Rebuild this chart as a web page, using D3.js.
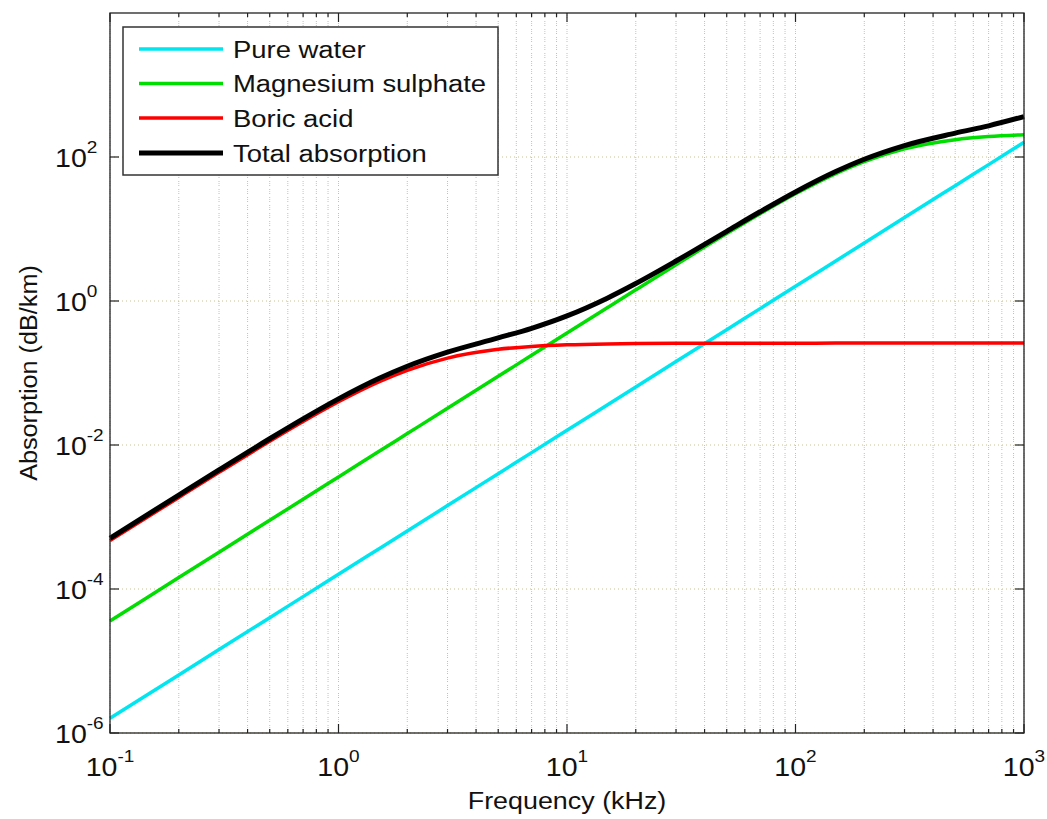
<!DOCTYPE html>
<html><head><meta charset="utf-8">
<script src="https://cdn.jsdelivr.net/npm/d3@7"></script>
<style>
body{margin:0;background:#fff;}
text{font-family:"Liberation Sans",Arial,Helvetica,sans-serif;fill:#111;}
</style>
</head><body>
<svg id="chart" width="1047" height="819"></svg>
<script>
// ---- data ----
const frequencies = [0.1,0.2,0.3,0.5,0.7,1,1.5,2,3,5,7,10,15,20,30,50,70,100,150,200,300,500,700,1000];
const pureWater = [1.6e-6,6.4e-6,1.44e-5,4.0e-5,7.84e-5,1.6e-4,3.6e-4,6.4e-4,1.44e-3,4.0e-3,7.84e-3,0.016,0.036,0.064,0.144,0.4,0.784,1.6,3.6,6.4,14.4,40,78.4,160];
const magnesiumSulphate = [3.6e-5,1.44e-4,3.24e-4,9.0e-4,1.764e-3,3.6e-3,8.1e-3,0.0144,0.0324,0.0899,0.1762,0.3593,0.8066,1.43,3.191,8.636,16.3,30.85,58.89,86.38,129.6,174.2,192.4,203.8];
const boricAcid = [4.7e-4,1.87e-3,4.17e-3,0.01127,0.0212,0.0399,0.0753,0.109,0.161,0.213,0.2337,0.2464,0.2538,0.2565,0.2584,0.2594,0.2597,0.2599,0.26,0.26,0.26,0.26,0.26,0.26];
const totalAbsorption = [5.08e-4,2.02e-3,4.51e-3,0.01221,0.02304,0.04366,0.08376,0.124,0.1948,0.3069,0.4177,0.6217,1.096,1.751,3.593,9.295,17.34,32.71,62.75,93.04,144.3,214.5,271.1,364.1];
const seriesNames = ["Pure water","Magnesium sulphate","Boric acid","Total absorption"];
const xTickValues = [0.1,1,10,100,1000];
const xTickExponents = ["-1","0","1","2","3"];
const yTickValues = [1e-6,1e-4,1e-2,1,1e2];
const yTickExponents = ["-6","-4","-2","0","2"];
const xTitle = "Frequency (kHz)";
const yTitle = "Absorption (dB/km)";

// ---- drawing ----
const svg = d3.select("#chart");
const L = 110, R = 1024, T = 13, B = 733;
const SX = 1.12; // horizontal text stretch of the original figure
const x = d3.scaleLog().domain([0.1, 1000]).range([L, R]);
const y = d3.scaleLog().domain([1e-6, 1e4]).range([B, T]);

const colors = ["#00e6f0", "#00dd00", "#ff0000", "#000000"];
const widths = [3.5, 3.5, 3.5, 5];
const seriesValues = [pureWater, magnesiumSulphate, boricAcid, totalAbsorption];

// minor x positions
const xAll = [];
for (let d = -1; d < 3; d++) for (let m = 1; m < 10; m++) xAll.push(m * Math.pow(10, d));
xAll.push(1000);
const xMinor = xAll.filter(v => !xTickValues.some(t => Math.abs(t - v) / t < 1e-9));

// grid
const grid = svg.append("g");
xAll.forEach(v => {
  grid.append("line").attr("x1", x(v)).attr("x2", x(v)).attr("y1", T).attr("y2", B)
    .attr("stroke", "#c8c290").attr("stroke-width", 1).attr("stroke-dasharray", "1,3");
  grid.append("line").attr("x1", x(v)).attr("x2", x(v)).attr("y1", T+2).attr("y2", B)
    .attr("stroke", "#c0c4ee").attr("stroke-width", 1).attr("stroke-dasharray", "1,7");
});
yTickValues.forEach(v => {
  grid.append("line").attr("x1", L).attr("x2", R).attr("y1", y(v)).attr("y2", y(v))
    .attr("stroke", "#c8c290").attr("stroke-width", 1).attr("stroke-dasharray", "1,3");
});

// series
const lineGen = d3.line().x(d => x(d[0])).y(d => y(d[1])).curve(d3.curveMonotoneX);
const plot = svg.append("g");
seriesValues.forEach((vals, i) => {
  plot.append("path").datum(frequencies.map((f, j) => [f, vals[j]]))
    .attr("d", lineGen).attr("fill", "none").attr("stroke", colors[i])
    .attr("stroke-width", widths[i]).attr("stroke-linejoin", "round");
});

// frame
svg.append("rect").attr("x", L).attr("y", T).attr("width", R - L).attr("height", B - T)
  .attr("fill", "none").attr("stroke", "#222").attr("stroke-width", 1.3);

// ticks (inward, bottom/top and left/right)
const ax = svg.append("g").attr("stroke", "#222").attr("stroke-width", 1.2);
xTickValues.forEach(v => {
  ax.append("line").attr("x1", x(v)).attr("x2", x(v)).attr("y1", B).attr("y2", B - 9);
  ax.append("line").attr("x1", x(v)).attr("x2", x(v)).attr("y1", T).attr("y2", T + 9);
});
xMinor.forEach(v => {
  ax.append("line").attr("x1", x(v)).attr("x2", x(v)).attr("y1", B).attr("y2", B - 4);
  ax.append("line").attr("x1", x(v)).attr("x2", x(v)).attr("y1", T).attr("y2", T + 4);
});
yTickValues.forEach(v => {
  ax.append("line").attr("x1", L).attr("x2", L + 9).attr("y1", y(v)).attr("y2", y(v));
  ax.append("line").attr("x1", R).attr("x2", R - 9).attr("y1", y(v)).attr("y2", y(v));
});

function powLabel(px, py, exp, anchor) {
  const t = svg.append("text").attr("transform", `translate(${px},${py}) scale(${SX},1)`)
    .attr("text-anchor", anchor).style("font-size", "25.5px");
  t.append("tspan").text("10");
  t.append("tspan").attr("dy", -14).style("font-size", "17px").text(exp);
}
xTickValues.forEach((v, i) => powLabel(x(v), 776, xTickExponents[i], "middle"));
yTickValues.forEach((v, i) => powLabel(55, y(v) + 10, yTickExponents[i], "start"));

// axis titles
svg.append("text").attr("transform", `translate(${(L + R) / 2},809) scale(${SX},1)`)
  .attr("text-anchor", "middle").style("font-size", "24px").text(xTitle);
svg.append("text").attr("transform", `translate(37,${(T + B) / 2}) rotate(-90) scale(1.05,1)`)
  .attr("text-anchor", "middle").style("font-size", "24px").text(yTitle);

// legend
const lg = svg.append("g");
lg.append("rect").attr("x", 123).attr("y", 27).attr("width", 375).attr("height", 148)
  .attr("fill", "#fff").attr("stroke", "#333").attr("stroke-width", 1.5);
const rowY = [49, 83.5, 118, 153];
seriesNames.forEach((name, i) => {
  lg.append("line").attr("x1", 139).attr("x2", 223).attr("y1", rowY[i]).attr("y2", rowY[i])
    .attr("stroke", colors[i]).attr("stroke-width", widths[i]);
  lg.append("text").attr("transform", `translate(233,${rowY[i] + 8.5}) scale(${SX},1)`)
    .style("font-size", "24.5px").text(name);
});
</script>
</body></html>
